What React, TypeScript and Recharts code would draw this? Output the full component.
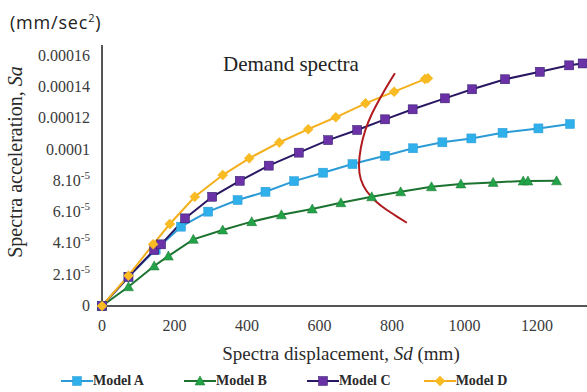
import { LineChart, Line, XAxis, YAxis, Legend } from "recharts";

// Capacity curves (Sd in mm, Sa in mm/sec²)
const modelAX = [0, 73, 148, 218, 293, 374, 451, 530, 610, 691, 781, 858, 939, 1019, 1105, 1204, 1291];
const modelAY = [0, 1.87e-5, 3.6e-5, 5.07e-5, 6.03e-5, 6.77e-5, 7.3e-5, 7.98e-5, 8.52e-5, 9.07e-5, 9.6e-5, 10.08e-5, 10.46e-5, 10.71e-5, 11.07e-5, 11.35e-5, 11.63e-5];

const modelBX = [0, 73, 144, 183, 252, 333, 413, 495, 580, 659, 744, 824, 909, 990, 1079, 1162, 1175, 1254];
const modelBY = [0, 1.23e-5, 2.56e-5, 3.19e-5, 4.26e-5, 4.86e-5, 5.39e-5, 5.83e-5, 6.2e-5, 6.6e-5, 6.98e-5, 7.3e-5, 7.62e-5, 7.8e-5, 7.9e-5, 7.99e-5, 7.99e-5, 8.0e-5];

const modelCX = [0, 73, 144, 163, 229, 304, 380, 460, 543, 624, 704, 781, 857, 946, 1021, 1112, 1208, 1289, 1326];
const modelCY = [0, 1.87e-5, 3.58e-5, 3.94e-5, 5.6e-5, 6.98e-5, 8.0e-5, 8.97e-5, 9.8e-5, 10.6e-5, 11.25e-5, 11.93e-5, 12.57e-5, 13.27e-5, 13.85e-5, 14.49e-5, 14.97e-5, 15.38e-5, 15.5e-5];

const modelDX = [0, 73, 141, 187, 256, 333, 406, 489, 569, 645, 727, 806, 891, 899];
const modelDY = [0, 1.94e-5, 3.94e-5, 5.24e-5, 6.98e-5, 8.37e-5, 9.44e-5, 10.45e-5, 11.3e-5, 12.06e-5, 12.95e-5, 13.7e-5, 14.5e-5, 14.55e-5];

const demandX = [808, 775, 745, 726, 714, 709, 714, 730, 755, 785, 815, 841];
const demandY = [14.87e-5, 13.6e-5, 12.3e-5, 11.2e-5, 10.1e-5, 9.0e-5, 8.1e-5, 7.35e-5, 6.7e-5, 6.15e-5, 5.7e-5, 5.32e-5];

const xTicks = [0, 200, 400, 600, 800, 1000, 1200];
const yTicks = [0, 2e-5, 4e-5, 6e-5, 8e-5, 10e-5, 12e-5, 14e-5, 16e-5];

const toPoints = (xs: number[], ys: number[]) => xs.map((x, i) => ({ x, y: ys[i] }));

const SERIF = "Liberation Serif, DejaVu Serif, Times New Roman, Times, serif";

const SERIES = [
  { key: "A", name: "Model A", xs: modelAX, ys: modelAY, stroke: "#2b9bd6", fill: "#2fb0ea", shape: "square" },
  { key: "B", name: "Model B", xs: modelBX, ys: modelBY, stroke: "#1c7330", fill: "#22a347", shape: "triangle" },
  { key: "C", name: "Model C", xs: modelCX, ys: modelCY, stroke: "#2a1763", fill: "#6a32a6", shape: "square" },
  { key: "D", name: "Model D", xs: modelDX, ys: modelDY, stroke: "#f4b01c", fill: "#f8bb22", shape: "diamond" },
];

function Marker({ cx, cy, shape, fill, stroke }: any) {
  if (cx == null || cy == null) return null;
  if (shape === "triangle") {
    return (
      <polygon
        points={`${cx},${cy - 5} ${cx - 5},${cy + 4} ${cx + 5},${cy + 4}`}
        fill={fill}
        stroke={stroke}
        strokeWidth={0.5}
      />
    );
  }
  if (shape === "diamond") {
    return (
      <polygon
        points={`${cx},${cy - 5} ${cx + 5},${cy} ${cx},${cy + 5} ${cx - 5},${cy}`}
        fill={fill}
        stroke={stroke}
        strokeWidth={0.5}
      />
    );
  }
  return <rect x={cx - 4.5} y={cy - 4.5} width={9} height={9} fill={fill} stroke={stroke} strokeWidth={0.5} />;
}

function YTick({ x, y, payload }: any) {
  const v = payload.value as number;
  const common = {
    x: x - 4,
    y: y + 5,
    textAnchor: "end" as const,
    fill: "#3a3a3a",
    style: { fontSize: 16, fontFamily: SERIF },
  };
  if (v === 0) return <text {...common}>0</text>;
  if (v >= 9.99e-5) return <text {...common}>{String(parseFloat(v.toPrecision(3)))}</text>;
  return (
    <text {...common}>
      {Math.round(v * 1e5)}.10
      <tspan dy={-7} style={{ fontSize: 11 }}>-5</tspan>
    </text>
  );
}

function LegendContent() {
  return (
    <div style={{ display: "flex", paddingLeft: 61, paddingTop: 13, fontFamily: SERIF }}>
      {SERIES.map((s, i) => (
        <div key={s.key} style={{ display: "flex", alignItems: "center", marginRight: i === 2 ? 33 : 40 }}>
          <svg width={32} height={14}>
            <line x1={0} y1={7} x2={32} y2={7} stroke={s.stroke} strokeWidth={2} />
            <Marker cx={16} cy={7} shape={s.shape} fill={s.fill} stroke={s.stroke} />
          </svg>
          <span style={{ fontSize: 14, fontWeight: 700, color: "#2a2a2a" }}>{s.name}</span>
        </div>
      ))}
    </div>
  );
}

export default function App() {
  return (
    <div style={{ position: "absolute", left: 0, top: 0, width: 587, height: 392, background: "#fff" }}>
      <LineChart width={587} height={392} margin={{ top: 45, right: 0, bottom: 0, left: 0 }}>
        <XAxis
          type="number"
          dataKey="x"
          domain={[0, 1338]}
          ticks={xTicks}
          allowDuplicatedCategory={false}
          axisLine={{ stroke: "#555", strokeWidth: 2 }}
          tickLine={false}
          tickMargin={8}
          height={54}
          tick={{ fill: "#3a3a3a", style: { fontSize: 16, fontFamily: SERIF } }}
        />
        <YAxis
          type="number"
          dataKey="y"
          domain={[0, 16.68e-5]}
          ticks={yTicks}
          width={102}
          axisLine={{ stroke: "#555", strokeWidth: 2 }}
          tickLine={false}
          tick={<YTick />}
        />
        <Legend verticalAlign="bottom" height={32} content={() => <LegendContent />} />
        {SERIES.map((s) => (
          <Line
            key={s.key}
            data={toPoints(s.xs, s.ys)}
            dataKey="y"
            name={s.name}
            type="linear"
            stroke={s.stroke}
            strokeWidth={2}
            dot={(p: any) => <Marker key={`${s.key}-${p.index}`} cx={p.cx} cy={p.cy} shape={s.shape} fill={s.fill} stroke={s.stroke} />}
            activeDot={false}
            isAnimationActive={false}
          />
        ))}
        <Line
          data={toPoints(demandX, demandY)}
          dataKey="y"
          name="Demand spectra"
          type="natural"
          stroke="#b0191e"
          strokeWidth={2}
          dot={false}
          activeDot={false}
          legendType="none"
          isAnimationActive={false}
        />
      </LineChart>
      <svg width={587} height={392} style={{ position: "absolute", left: 0, top: 0, pointerEvents: "none" }}>
        <text x={10} y={29} fill="#222" style={{ fontSize: 18, fontFamily: "Open Sans, sans-serif", letterSpacing: 0.8 }}>
          (mm/sec<tspan dy={-7} style={{ fontSize: 11 }}>2</tspan>
          <tspan dy={7}>)</tspan>
        </text>
        <text x={223} y={71} fill="#222" style={{ fontSize: 21, fontFamily: SERIF }}>
          Demand spectra
        </text>
        <text
          x={22}
          y={162}
          transform="rotate(-90 22 162)"
          textAnchor="middle"
          fill="#2a2a2a"
          style={{ fontSize: 20, fontFamily: SERIF }}
        >
          Spectra acceleration, <tspan fontStyle="italic">Sa</tspan>
        </text>
        <text x={341} y={360} textAnchor="middle" fill="#2a2a2a" style={{ fontSize: 19, fontFamily: SERIF }}>
          Spectra displacement, <tspan fontStyle="italic">Sd</tspan> (mm)
        </text>
      </svg>
    </div>
  );
}
